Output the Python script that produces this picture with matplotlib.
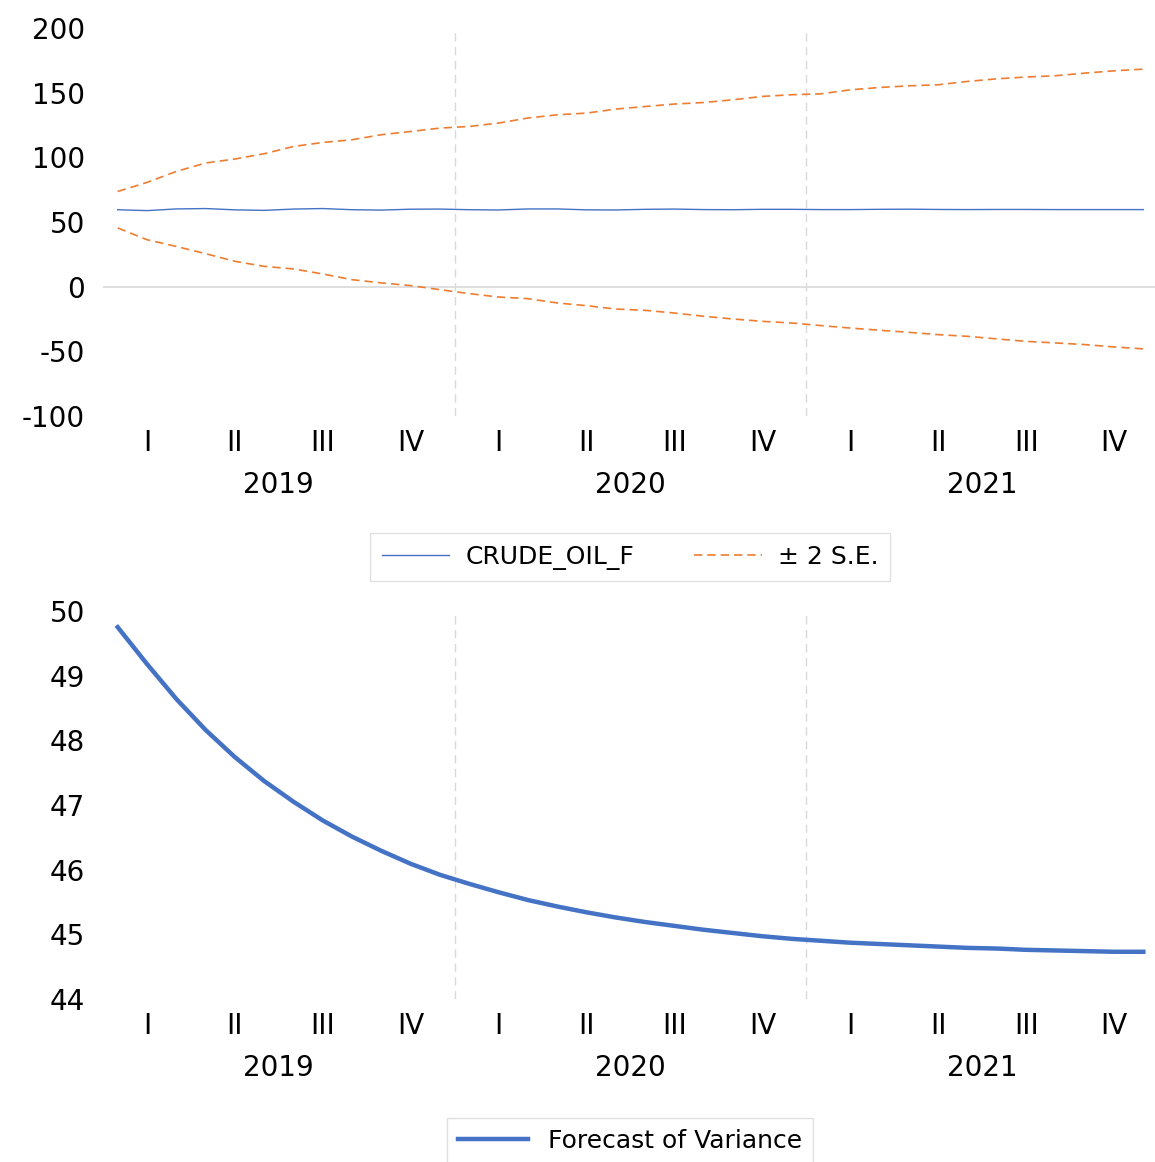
import matplotlib
matplotlib.use('Agg')
import matplotlib.pyplot as plt
from matplotlib.lines import Line2D

# monthly forecast, Jan 2019 - Dec 2021
months = list(range(36))
years = ['2019', '2020', '2021']
quarters = ['I', 'II', 'III', 'IV']

crude_oil_f = [59.5, 58.8, 60.1, 60.4, 59.4, 59.0, 60.0, 60.4, 59.5, 59.2, 59.9, 60.0,
               59.5, 59.3, 60.1, 60.1, 59.4, 59.3, 59.8, 60.0, 59.6, 59.5, 59.8, 59.8,
               59.6, 59.6, 59.8, 59.9, 59.7, 59.6, 59.7, 59.7, 59.6, 59.6, 59.6, 59.6]

upper_se = [73.6, 80.6, 89.1, 95.6, 98.7, 102.8, 108.4, 111.5, 113.6, 117.5, 120.0, 122.6,
            123.9, 126.5, 130.4, 132.9, 134.2, 137.3, 139.3, 141.2, 142.4, 144.5, 147.1, 148.4,
            149.1, 152.2, 154.0, 155.3, 156.1, 158.7, 160.7, 162.1, 163.1, 165.1, 166.9, 168.2]

lower_se = [45.4, 36.3, 31.1, 25.5, 19.6, 15.7, 13.7, 9.8, 5.4, 2.9, 0.8, -2.3,
            -5.4, -8.0, -9.3, -12.6, -14.7, -17.3, -18.3, -20.4, -22.9, -25.0, -26.8, -28.1,
            -30.1, -32.0, -33.7, -35.3, -37.1, -38.4, -40.4, -42.3, -43.5, -44.8, -46.6, -48.1]

variance_f = [49.75, 49.18, 48.64, 48.16, 47.74, 47.37, 47.05, 46.76, 46.51, 46.29, 46.09, 45.92,
              45.78, 45.65, 45.53, 45.43, 45.34, 45.26, 45.19, 45.13, 45.07, 45.02, 44.97, 44.93,
              44.90, 44.87, 44.85, 44.83, 44.81, 44.79, 44.78, 44.76, 44.75, 44.74, 44.73, 44.73]

blue = '#4472C4'
orange = '#ED7D31'
grid = '#D9D9D9'
fs = 20

plt.rcParams['font.family'] = ['DejaVu Sans']
plt.rcParams['axes.unicode_minus'] = False

fig = plt.figure(figsize=(11.55, 11.62), dpi=100)
ax1 = fig.add_axes([0.0892, 0.642, 0.9134, 0.3339])
ax2 = fig.add_axes([0.0892, 0.1403, 0.9134, 0.3339])


def style_axis(ax):
    for s in ax.spines.values():
        s.set_visible(False)
    ax.set_xlim(-0.5, 35.5)
    ax.tick_params(axis='both', length=0, labelsize=fs)
    ax.tick_params(axis='y', pad=13)
    ax.set_xticks([])
    # year separators
    for sep in [11.5, 23.5]:
        ax.axvline(sep, color=grid, lw=1, ls=(0, (6, 4)), zorder=0)
    tr = ax.get_xaxis_transform()
    for yi, yr in enumerate(years):
        for qi, q in enumerate(quarters):
            ax.text(yi * 12 + qi * 3 + 1, -0.069, q, transform=tr, ha='center', va='center', fontsize=fs)
        ax.text(yi * 12 + 5.5, -0.178, yr, transform=tr, ha='center', va='center', fontsize=fs)


style_axis(ax1)
ax1.set_ylim(-100, 200)
ax1.set_yticks([-100, -50, 0, 50, 100, 150, 200])
ax1.axhline(0, color=grid, lw=1.2, zorder=0)
ax1.plot(months, crude_oil_f, color=blue, lw=1.0)
ax1.plot(months, upper_se, color=orange, lw=1.2, ls=(0, (5, 3)))
ax1.plot(months, lower_se, color=orange, lw=1.2, ls=(0, (5, 3)))

style_axis(ax2)
ax2.set_ylim(44, 50)
ax2.set_yticks([44, 45, 46, 47, 48, 49, 50])
ax2.plot(months, variance_f, color=blue, lw=3.2)

h1 = [Line2D([], [], color=blue, lw=1.0),
      Line2D([], [], color=orange, lw=1.2, ls=(0, (5, 3)))]
leg1 = fig.legend(h1, ['CRUDE_OIL_F', '\u00b1 2 S.E.'], loc='center', ncol=2,
                  bbox_to_anchor=(630 / 1155, 1 - 557 / 1162), fontsize=18,
                  frameon=True, fancybox=False, edgecolor=grid, handlelength=2.7,
                  handletextpad=0.65, columnspacing=2.4, borderpad=0.45, borderaxespad=0)
leg1.get_frame().set_linewidth(1)

h2 = [Line2D([], [], color=blue, lw=3.2)]
leg2 = fig.legend(h2, ['Forecast of Variance'], loc='center',
                  bbox_to_anchor=(630 / 1155, 1 - 1141 / 1162), fontsize=18,
                  frameon=True, fancybox=False, edgecolor=grid, handlelength=2.8,
                  handletextpad=0.8, borderpad=0.45, borderaxespad=0)
leg2.get_frame().set_linewidth(1)

fig.savefig('out.png', dpi=100)
